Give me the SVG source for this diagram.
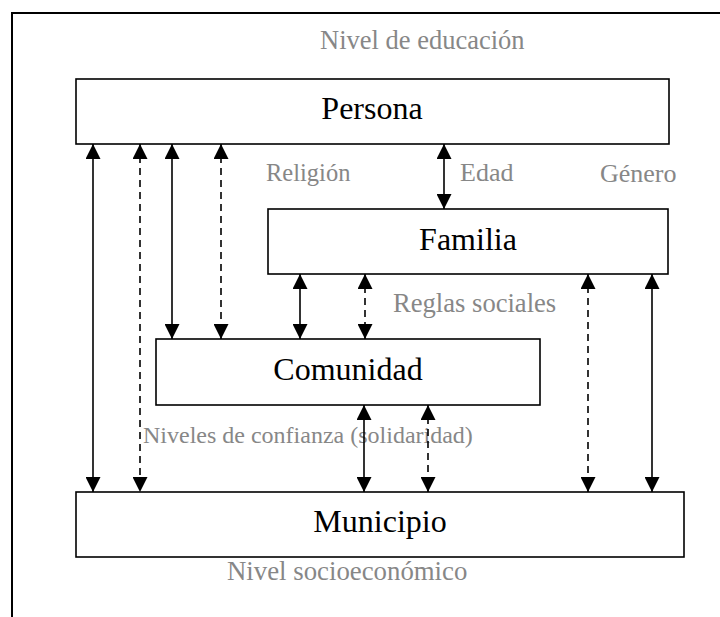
<svg xmlns="http://www.w3.org/2000/svg" width="720" height="617" viewBox="0 0 720 617">
<style>
.box{fill:#fff;stroke:#000;stroke-width:1.6}
.name{font-family:'Liberation Serif','Times New Roman',Times,'DejaVu Serif',serif;font-size:32px;fill:#000;text-anchor:middle}
.lbl{font-family:'Liberation Serif','Times New Roman',Times,'DejaVu Serif',serif;font-size:26px;fill:#878787}
.c{stroke:#000;stroke-width:1.6;fill:none;marker-start:url(#ah);marker-end:url(#ah)}
.d{stroke-dasharray:7,5}
</style>
<defs>
<marker id="ah" markerUnits="userSpaceOnUse" markerWidth="15" markerHeight="15" viewBox="0 0 15 15" refX="15" refY="7.5" orient="auto-start-reverse">
<path d="M0,0 L15,7.5 L0,15 z" fill="#000"/>
</marker>
</defs>
<rect width="720" height="617" fill="#fff"/>
<path d="M12,617 V13 H720" fill="none" stroke="#000" stroke-width="2"/>
<g id="persona"><rect class="box" x="76" y="79" width="593" height="65"/><text class="name" x="372" y="119">Persona</text></g>
<g id="familia"><rect class="box" x="268" y="209" width="400" height="65"/><text class="name" x="468" y="250">Familia</text></g>
<g id="comunidad"><rect class="box" x="156" y="339" width="384" height="66"/><text class="name" x="348" y="380">Comunidad</text></g>
<g id="municipio"><rect class="box" x="76" y="492" width="608" height="65"/><text class="name" x="380" y="532">Municipio</text></g>
<g id="labels">
<text class="lbl" x="320" y="49" style="font-size:26.5px">Nivel de educación</text>
<text class="lbl" x="266" y="181" style="font-size:24.5px">Religión</text>
<text class="lbl" x="460" y="181">Edad</text>
<text class="lbl" x="600" y="182">Género</text>
<text class="lbl" x="393" y="312" style="font-size:26.6px">Reglas sociales</text>
<text class="lbl" x="143" y="443" style="font-size:24px">Niveles de confianza (solidaridad)</text>
<text class="lbl" x="227" y="580" style="font-size:26.8px">Nivel socioeconómico</text>
</g>
<g id="connectors">
<line class="c" x1="93" y1="144" x2="93" y2="492"/>
<line class="c d" x1="140" y1="144" x2="140" y2="492"/>
<line class="c" x1="172" y1="144" x2="172" y2="339"/>
<line class="c d" x1="221" y1="144" x2="221" y2="339"/>
<line class="c" x1="444" y1="144" x2="444" y2="209"/>
<line class="c" x1="300" y1="274" x2="300" y2="339"/>
<line class="c d" x1="365" y1="274" x2="365" y2="339"/>
<line class="c d" x1="588" y1="274" x2="588" y2="492"/>
<line class="c" x1="652" y1="274" x2="652" y2="492"/>
<line class="c" x1="364" y1="405" x2="364" y2="492"/>
<line class="c d" x1="428" y1="405" x2="428" y2="492"/>
</g>
</svg>
